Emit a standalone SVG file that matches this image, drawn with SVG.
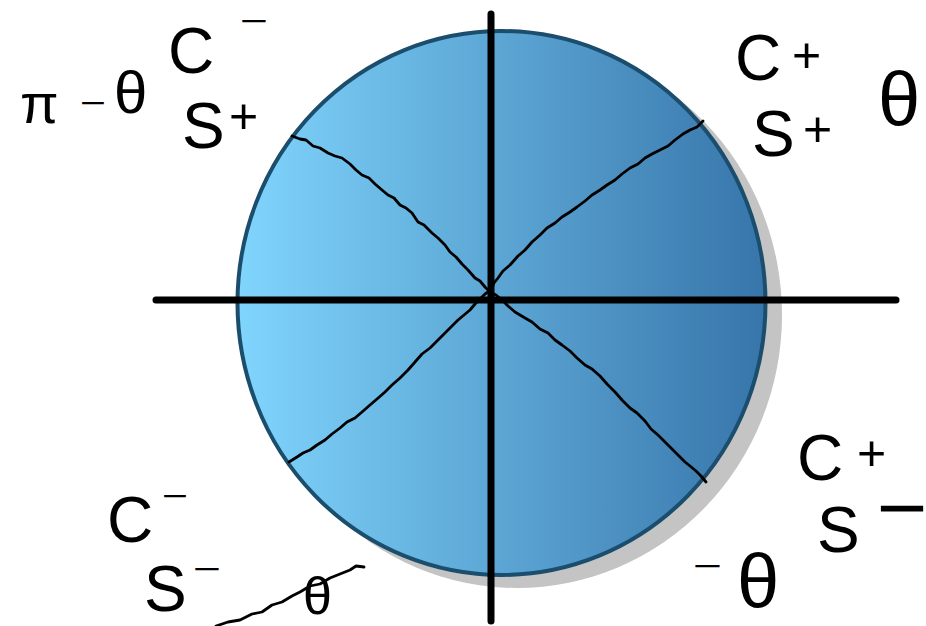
<svg xmlns="http://www.w3.org/2000/svg" width="926" height="626" viewBox="0 0 926 626">
<defs>
<linearGradient id="blue" x1="0" y1="0" x2="1" y2="0">
<stop offset="0" stop-color="#80d5fd"/>
<stop offset="1" stop-color="#3775aa"/>
</linearGradient>
</defs>
<style>
.lbl{font-family:"Liberation Sans","DejaVu Sans",sans-serif;fill:#000;font-weight:normal}
.big{font-size:64px}
.sup{font-size:50px}
.dash{font-size:32px}
.axis{stroke:#000;stroke-width:7;stroke-linecap:round;fill:none}
.wig{stroke:#000;stroke-width:2.8;stroke-linejoin:round;stroke-linecap:round;fill:none}
</style>
<rect width="926" height="626" fill="#fff"/>
<g id="circle">
<ellipse cx="517" cy="315" rx="265" ry="273" fill="#c4c4c4"/>
<ellipse cx="501.5" cy="303" rx="264" ry="272" fill="url(#blue)" stroke="#1b4d6d" stroke-width="4"/>
</g>
<g id="connectors">
<polyline class="wig" points="292,136 300,139 306,140 313,146 320,148 328,153 335,156 342,158 350,164 356,170 362,175 369,178 375,184 382,190 388,195 394,198 400,205 406,208 412,213 418,222 424,225 432,233 438,238 445,245 450,252 456,257 462,264 468,270 475,278 480,281 485,287 490,292 496,295 502,300 508,306 515,312 525,318 532,322 540,329 548,333 555,340 562,345 570,351 577,358 585,365 592,369 600,376 607,384 615,392 622,400 630,408 637,413 645,421 651,429 658,435 664,441 670,447 677,454 685,462 690,466 696,471 701,476 706,482"/>
<polyline class="wig" points="703,121 697,127 690,130 683,134 675,140 668,146 660,150 652,154 645,158 638,164 630,168 622,174 615,180 607,185 600,190 592,195 585,201 577,207 570,212 562,217 555,223 547,228 540,235 532,242 525,250 518,256 510,265 503,271 498,278 494,283 491,290 485,294 480,299 475,304 470,310 464,315 458,320 451,327 445,333 437,341 430,348 422,354 415,362 408,370 400,378 392,385 385,392 377,399 370,405 362,412 355,418 347,422 340,428 332,434 325,440 317,445 310,450 303,453 297,457 289,462"/>
<line class="axis" x1="491" y1="14" x2="491" y2="621"/>
<line class="axis" x1="156" y1="300" x2="896" y2="300"/>
<polyline class="wig" stroke-width="3" points="216,626 228,622 240,620 252,614 262,612 272,605 282,602 292,596 300,592 310,586 320,584 330,578 340,574 350,570 356,566 364,567"/>
</g>
<g id="q2-label">
<text class="lbl big" x="168" y="73">C</text>
<text class="lbl dash" x="240" y="32" textLength="28" lengthAdjust="spacingAndGlyphs">−</text>
<text class="lbl big" x="182" y="148">S</text>
<text class="lbl sup" x="229" y="133">+</text>
<text class="lbl" font-size="56" x="20" y="123">π</text>
<text class="lbl dash" x="80" y="114" textLength="26" lengthAdjust="spacingAndGlyphs">−</text>
<text class="lbl" font-size="60" x="114" y="113">θ</text>
</g>
<g id="q1-label">
<text class="lbl big" x="735" y="80">C</text>
<text class="lbl sup" x="792" y="72">+</text>
<text class="lbl big" x="752" y="156">S</text>
<text class="lbl sup" x="803" y="146">+</text>
<text class="lbl" font-size="76" x="878" y="125">θ</text>
</g>
<g id="q3-label">
<text class="lbl big" x="107" y="542">C</text>
<text class="lbl dash" x="162" y="507" textLength="26" lengthAdjust="spacingAndGlyphs">−</text>
<text class="lbl big" x="144" y="611">S</text>
<text class="lbl dash" x="193" y="580" textLength="28" lengthAdjust="spacingAndGlyphs">−</text>
<text class="lbl" font-size="52" x="303" y="614">θ</text>
</g>
<g id="q4-label">
<text class="lbl big" x="797" y="480">C</text>
<text class="lbl sup" x="857" y="470">+</text>
<text class="lbl big" x="817" y="552">S</text>
<text class="lbl" font-size="40" font-weight="bold" stroke="#000" stroke-width="3" x="880" y="522" textLength="44" lengthAdjust="spacingAndGlyphs">−</text>
<text class="lbl dash" x="693" y="577" textLength="29" lengthAdjust="spacingAndGlyphs">−</text>
<text class="lbl" font-size="76" x="737" y="607">θ</text>
</g>
</svg>
